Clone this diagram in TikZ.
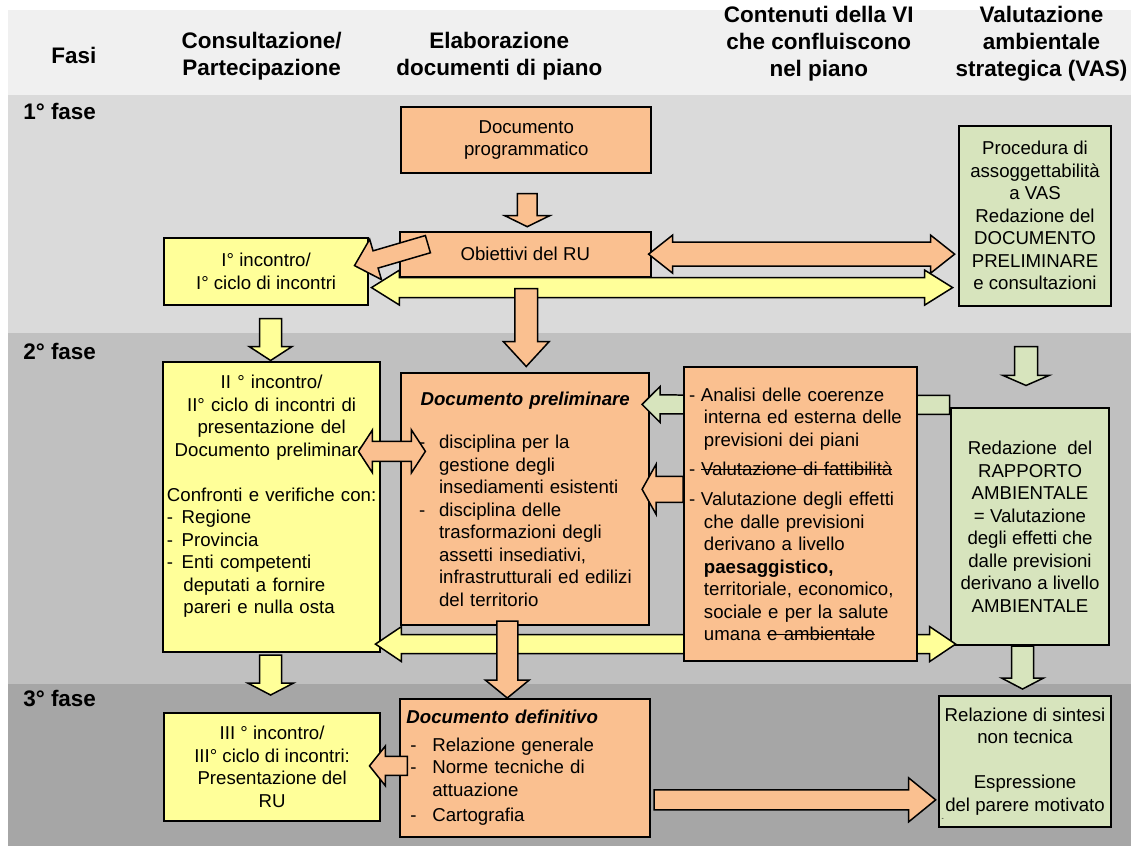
\documentclass[tikz,border=0pt]{standalone}
\usepackage{fontspec}
\setmainfont{Liberation Sans}
\usepackage{tikz}
\usetikzlibrary{calc}

\definecolor{arancio}{HTML}{FAC090}
\definecolor{giallo}{HTML}{FFFF99}
\definecolor{verde}{HTML}{D7E4BD}
\definecolor{testata}{HTML}{F0F0F0}
\definecolor{fase1}{HTML}{DADADA}
\definecolor{fase2}{HTML}{C0C0C0}
\definecolor{fase3}{HTML}{A6A6A6}

\tikzset{
	box/.style={draw=black, line width=1.2pt, inner sep=2pt,
		font=\fontsize{11.2}{13.5}\selectfont, align=center}, % all boxes
	orangebox/.style={box, fill=arancio},
	yellowbox/.style={box, fill=giallo},
	greenbox/.style={box, fill=verde},
	header/.style={font=\fontsize{13.5}{16.2}\selectfont\bfseries, align=center},
	fase/.style={font=\fontsize{13.5}{16.2}\selectfont\bfseries, anchor=west, inner sep=0pt},
	arrowline/.style={draw=black, line width=0.9pt, line join=miter},
}

% struck-out text
\newsavebox{\barbox}
\newcommand{\barrato}[1]{\sbox{\barbox}{#1}\rlap{\rule[0.3em]{\wd\barbox}{0.6pt}}\usebox{\barbox}}

% block arrows: from, to, half shaft, half head, head length, fill
\newcommand{\barrow}[6]{%
	\path (#1) coordinate (ba) (#2) coordinate (bb);
	\coordinate (bn) at ($(bb)!#5*0.6pt!(ba)$);
	\filldraw[arrowline, fill=#6] ($(ba)!#3*0.6pt!90:(bb)$) -- ($(bn)!#3*0.6pt!90:(bb)$)
		-- ($(bn)!#4*0.6pt!90:(bb)$) -- (bb) -- ($(bn)!#4*0.6pt!-90:(bb)$)
		-- ($(bn)!#3*0.6pt!-90:(bb)$) -- ($(ba)!#3*0.6pt!-90:(bb)$) -- cycle;
}
\newcommand{\dbarrow}[6]{%
	\path (#1) coordinate (ba) (#2) coordinate (bb);
	\coordinate (bm) at ($(ba)!#5*0.6pt!(bb)$);
	\coordinate (bn) at ($(bb)!#5*0.6pt!(ba)$);
	\filldraw[arrowline, fill=#6] (ba) -- ($(bm)!#4*0.6pt!90:(bb)$) -- ($(bm)!#3*0.6pt!90:(bb)$)
		-- ($(bn)!#3*0.6pt!90:(bb)$) -- ($(bn)!#4*0.6pt!90:(bb)$) -- (bb)
		-- ($(bn)!#4*0.6pt!-90:(bb)$) -- ($(bn)!#3*0.6pt!-90:(bb)$)
		-- ($(bm)!#3*0.6pt!-90:(bb)$) -- ($(bm)!#4*0.6pt!-90:(bb)$) -- cycle;
}

\begin{document}
\begin{tikzpicture}[x=0.6pt, y=-0.6pt]
	% fasce
	\fill[white] (0,0) rectangle (1133,847);
	\fill[testata] (8,10) rectangle (1133,95);
	\fill[fase1] (8,95) rectangle (1133,333);
	\fill[fase2] (8,333) rectangle (1133,685);
	\fill[fase3] (8,685) rectangle (1133,847);

	% intestazioni
	\node[header] (hfasi) at (74,56) {Fasi};
	\node[header] (hcons) at (262,56) {Consultazione/\\Partecipazione};
	\node[header] (helab) at (500,56) {Elaborazione\\documenti di piano};
	\node[header] (hvi) at (820,44) {Contenuti della VI\\che confluiscono\\nel piano};
	\node[header] (hvas) at (1043,44) {Valutazione\\ambientale\\strategica (VAS)};

	\node[fase] (f1) at (23,112) {1° fase};
	\node[fase] (f2) at (23,352) {2° fase};
	\node[fase] (f3) at (23,699) {3° fase};

	% 1° fase
	\node[orangebox, minimum width=150pt, minimum height=39.6pt] (prog) at (527,140) {Documento\\programmatico};
	\node[orangebox, minimum width=150.6pt, minimum height=27pt] (obj) at (526,254.5) {Obiettivi del RU};
	\node[yellowbox, minimum width=123pt, minimum height=40.2pt] (inc1) at (266.5,271.5) {I° incontro/\\I° ciclo di incontri};
	\node[greenbox, minimum width=91.8pt, minimum height=108pt] (proc) at (1036.5,216)
		{Procedura di\\assoggettabilità\\a VAS\\Redazione del\\DOCUMENTO\\PRELIMINARE\\e consultazioni};

	% 2° fase
	\node[yellowbox, minimum width=130.8pt, minimum height=174pt, text width=126pt, align=left] (inc2) at (272,508)
		{\centering II ° incontro/\\II° ciclo di incontri di\\presentazione del\\Documento preliminare\\[13.5pt]
		Confronti e verifiche con:\par\raggedright
		\makebox[9pt][l]{-}Regione\\\makebox[9pt][l]{-}Provincia\\\makebox[9pt][l]{-}Enti competenti\\
		\hspace*{10pt}deputati a fornire\\\hspace*{10pt}pareri e nulla osta\par\kern 13pt};
	\node[orangebox, minimum width=148.8pt, minimum height=151.2pt, text width=132pt, inner xsep=8.4pt, align=left] (prelim) at (526,500)
		{\centering\textbf{\textit{Documento preliminare}}\par\vspace{12.5pt}\raggedright
		\hspace*{2.2pt}\makebox[12pt][l]{-}disciplina per la\\\hspace*{14.2pt}gestione degli\\
		\hspace*{14.2pt}insediamenti esistenti\\
		\hspace*{2.2pt}\makebox[12pt][l]{-}disciplina delle\\\hspace*{14.2pt}trasformazioni degli\\
		\hspace*{14.2pt}assetti insediativi,\\\hspace*{14.2pt}infrastrutturali ed edilizi\\
		\hspace*{14.2pt}del territorio};
	\node[greenbox, minimum width=95.4pt, minimum height=142.2pt] (rapp) at (1031.5,527.5)
		{Redazione\ \ del\\RAPPORTO\\AMBIENTALE\\= Valutazione\\degli effetti che\\dalle previsioni\\derivano a livello\\AMBIENTALE};

	% 3° fase
	\node[yellowbox, minimum width=130.2pt, minimum height=64.8pt] (inc3) at (272.5,768)
		{III ° incontro/\\III° ciclo di incontri:\\Presentazione del\\RU};
	\node[orangebox, minimum width=150pt, minimum height=82.8pt, text width=142.8pt, inner xsep=3.6pt, align=left] (defin) at (526,769)
		{\textbf{\textit{Documento definitivo}}\\[3pt]
		\hspace*{2.4pt}\makebox[13.2pt][l]{-}Relazione generale\\
		\hspace*{2.4pt}\makebox[13.2pt][l]{-}Norme tecniche di\\
		\hspace*{15.6pt}attuazione\\[2pt]
		\hspace*{2.4pt}\makebox[13.2pt][l]{-}Cartografia};
	\node[greenbox, minimum width=103.8pt, minimum height=78.6pt] (sint) at (1026.5,762.5)
		{Relazione di sintesi\\non tecnica\\[13.5pt]Espressione\\del parere motivato};
	\node[font=\fontsize{4}{4}\selectfont, inner sep=0pt] (segno) at (944,821) {-};

	% frecce
	\barrow{$(prog.south)+(1,20)$}{$(obj.north)+(2,-4)$}{10}{22.5}{11}{arancio}
	\barrow{$(obj.west)+(29,-10)$}{$(inc1.east)+(-15,-5.5)$}{9}{21}{22}{arancio}
	\dbarrow{$(obj.east)+(-3,0)$}{$(obj.east -| proc.west)+(-3,0)$}{12}{19}{24}{arancio}
	\dbarrow{$(inc1.east)+(2,16.5)$}{$(inc1.east -| proc.west)+(-5,16.5)$}{10}{17.5}{28}{giallo}
	\barrow{$(obj.south)+(1,11)$}{$(prelim.north)+(1,-6)$}{11.5}{23}{25}{arancio}
	\barrow{$(inc1.south)+(4.5,13)$}{$(inc2.north)+(-1,-1)$}{11}{21.5}{14}{giallo}
	\barrow{$(proc.south)+(-9,40)$}{$(rapp.north)+(-4,-22)$}{11.5}{23}{10}{verde}
	\barrow{$(rapp.west)+(0,-122)$}{$(prelim.east)+(-8,-95)$}{9.5}{18}{18}{verde}
	\dbarrow{$(inc2.east)+(-6,137)$}{$(rapp.west)+(6,117.5)$}{9.5}{17.5}{26}{giallo}

	\node[orangebox, minimum width=139.8pt, minimum height=176.4pt, text width=133.8pt, inner xsep=3pt, align=left] (coer) at (801.5,515)
		{\makebox[7.2pt][l]{-}Analisi delle coerenze\\\hspace*{9pt}interna ed esterna delle\\\hspace*{9pt}previsioni dei piani\\[4pt]
		\makebox[7.2pt][l]{-}\barrato{Valutazione di fattibilità}\\[5pt]
		\makebox[7.2pt][l]{-}Valutazione degli effetti\\\hspace*{9pt}che dalle previsioni\\
		\hspace*{9pt}derivano a livello\\\hspace*{9pt}\textbf{paesaggistico,}\\
		\hspace*{9pt}territoriale, economico,\\\hspace*{9pt}sociale e per la salute\\
		\hspace*{9pt}umana \barrato{e ambientale}};

	\barrow{$(coer.west)+(0,-25)$}{$(prelim.east)+(-8,-10)$}{13}{25}{14}{arancio}
	\dbarrow{$(inc2.east)+(-23,-56)$}{$(prelim.west)+(25,-48)$}{10}{21.5}{14}{arancio}
	\barrow{$(prelim.south)+(-18,-5)$}{$(defin.north)+(-18,0)$}{10.5}{22}{18}{arancio}
	\barrow{$(inc2.south)+(-1,2)$}{$(inc3.north)+(-1.5,-17)$}{11}{23}{12}{giallo}
	\barrow{$(rapp.south)+(-7.5,0)$}{$(sint.north)+(-2.5,-6)$}{11}{21}{11}{verde}
	\barrow{$(defin.west)+(8,-2)$}{$(inc3.east)+(-12,-1)$}{9.5}{20}{16}{arancio}
	\barrow{$(defin.east)+(3,32)$}{$(sint.west)+(-2,38.5)$}{10}{22}{27}{arancio}
\end{tikzpicture}
\end{document}
